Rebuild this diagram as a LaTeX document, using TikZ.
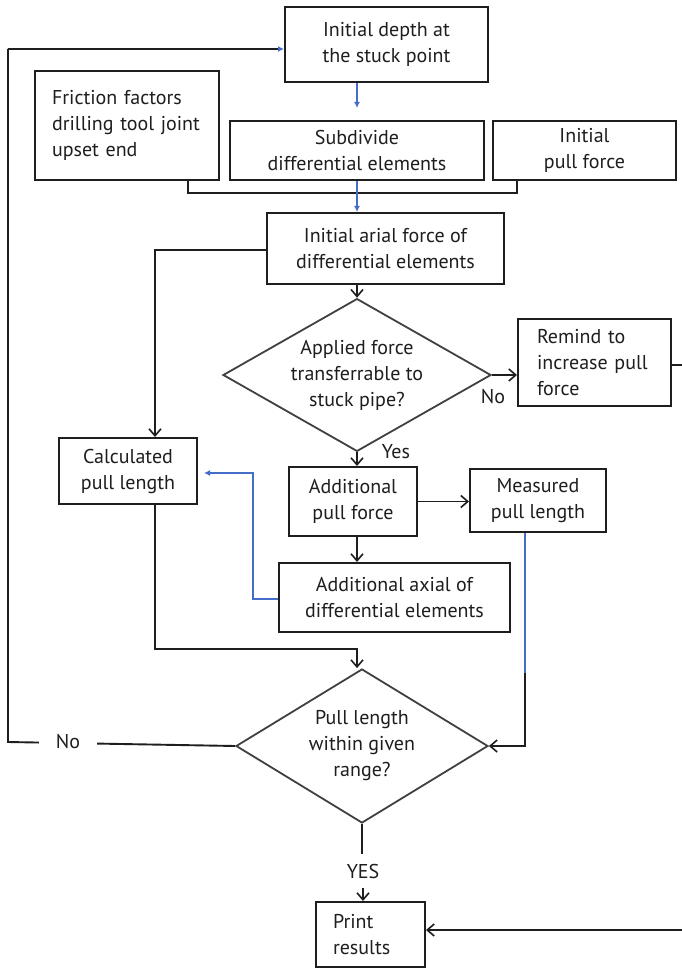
\documentclass[tikz,border=0pt]{standalone}
\usepackage{fontspec}
\setmainfont{PT Sans}
\usetikzlibrary{arrows.meta,shapes.geometric,calc}
\definecolor{lineblue}{RGB}{70,110,200}
\definecolor{ink}{RGB}{30,30,30}
\begin{document}
\begin{tikzpicture}[x=1pt,y=-1pt,
  every node/.style={font=\fontsize{20}{26}\selectfont, text=ink},
  box/.style={draw=ink, line width=2pt, inner sep=0pt, align=center},
  dia/.style={draw=ink!85, line width=1.8pt, diamond, inner sep=0pt, aspect=1.6, align=center},
  conn/.style={draw=ink, line width=1.9pt},
  arr/.style={conn, -{Straight Barb[length=7pt,width=12pt,line width=1.6pt]}},
  bconn/.style={draw=lineblue, line width=1.8pt},
  barr/.style={bconn, -{Latex[length=6pt,width=6pt]}},
  lbl/.style={inner sep=1pt}]
\useasboundingbox (0,0) rectangle (681,968);
\fill[white] (0,0) rectangle (681,968);

% nodes
\node[box, minimum width=203pt, minimum height=75pt] (b1) at (386.5,44.5) {Initial depth at\\the stuck point};
\node[box, minimum width=184pt, minimum height=109pt, text width=150pt, inner xsep=17pt, align=left] (fr) at (127,125.5) {Friction factors\\drilling tool joint\\upset end};
\node[box, minimum width=254pt, minimum height=59pt] (sub) at (357,150.5) {Subdivide\\differential elements};
\node[box, minimum width=183pt, minimum height=59pt] (ipf) at (584.5,150.5) {Initial\\pull force};
\node[box, minimum width=237pt, minimum height=71pt] (ar) at (385.5,248.5) {Initial arial force of\\differential elements};
\node[dia, minimum width=268pt, minimum height=147pt] (d1) at (357,375) {Applied force\\transferrable to\\stuck pipe?};
\node[box, minimum width=153pt, minimum height=87pt, text width=115pt, inner xsep=19pt, align=left] (rem) at (594.5,362.5) {Remind to\\increase pull\\force};
\node[box, minimum width=138pt, minimum height=66pt] (calc) at (128,471) {Calculated\\pull length};
\node[box, minimum width=128pt, minimum height=69pt] (apf) at (353,501.5) {Additional\\pull force};
\node[box, minimum width=136pt, minimum height=63pt] (meas) at (538,500.5) {Measured\\pull length};
\node[box, minimum width=231pt, minimum height=69pt] (ax) at (394.5,597.5) {Additional axial of\\differential elements};
\node[dia, minimum width=252pt, minimum height=154pt] (d2) at (362,746) {Pull length\\within given\\range?};
\node[box, minimum width=109pt, minimum height=65pt, text width=75pt, inner xsep=17pt, align=left] (pr) at (370.5,934.5) {Print\\results};

% labels
\node[lbl] (no1) at (493,397) {No};
\node[lbl] (yes1) at (396,452) {Yes};
\node[lbl, minimum height=34pt] (yes2) at (363,871) {YES};

% coordinates
\coordinate (lt) at (8,49);
\coordinate (lb) at (8,742);
\coordinate (bl) at (188,193);
\coordinate (br) at (517,193);
\coordinate (ca) at (155,250);
\coordinate (cb) at (155,649);
\coordinate (cc) at (357,649);
\coordinate (ba) at (253,599);
\coordinate (bb) at (253,473);
\coordinate (ma) at (525,673);
\coordinate (mb) at (525,746);
\coordinate (ra) at (700,365);
\coordinate (rb) at (700,930);

% top loop with No
\path[conn] (d2.west) -- (lb) -- (lt);
\draw[conn, -{Latex[length=6pt,width=6pt,color=lineblue]}] (lt) -- (lt -| b1.west);
\node[lbl, fill=white, minimum width=58pt] (no2) at (68,742) {No};

% main flow
\draw[barr, shorten >=12pt] (b1.south -| sub.north) -- (sub.north);
\draw[conn] (fr.south -| bl) -- (bl) -- (br) -- (ipf.south -| br);
\draw[barr] (sub.south) -- (sub.south |- ar.north);
\draw[arr] (ar.west |- ca) -- (ca) -- (ca |- calc.north);
\draw[arr] (d1.north |- ar.south) -- (d1.north);
\draw[arr] (d1.east) -- (d1.east -| rem.west);
\draw[arr] (rem.east |- ra) -- (ra) -- (rb) -- (pr.east |- rb);
\draw[arr] (d1.south) -- (d1.south |- apf.north);
\draw[arr] (apf.east) -- (meas.west |- apf.east);
\draw[arr] (d1.south |- apf.south) -- (d1.south |- ax.north);
\draw[bconn, -{Latex[length=6pt,width=6pt]}, shorten >=6pt] (ax.west |- ba) -- (ba) -- (bb) -- (calc.east |- bb);
\draw[arr] (ca |- calc.south) -- (cb) -- (cc) -- (cc |- d2.north);
\draw[bconn] (ma |- meas.south) -- (ma);
\draw[arr] (ma) -- (mb) -- (d2.east);
\draw[conn] (d2.south) -- (d2.south |- yes2.north);
\draw[arr] (yes2.south) -- (yes2.south |- pr.north);
\end{tikzpicture}
\end{document}
